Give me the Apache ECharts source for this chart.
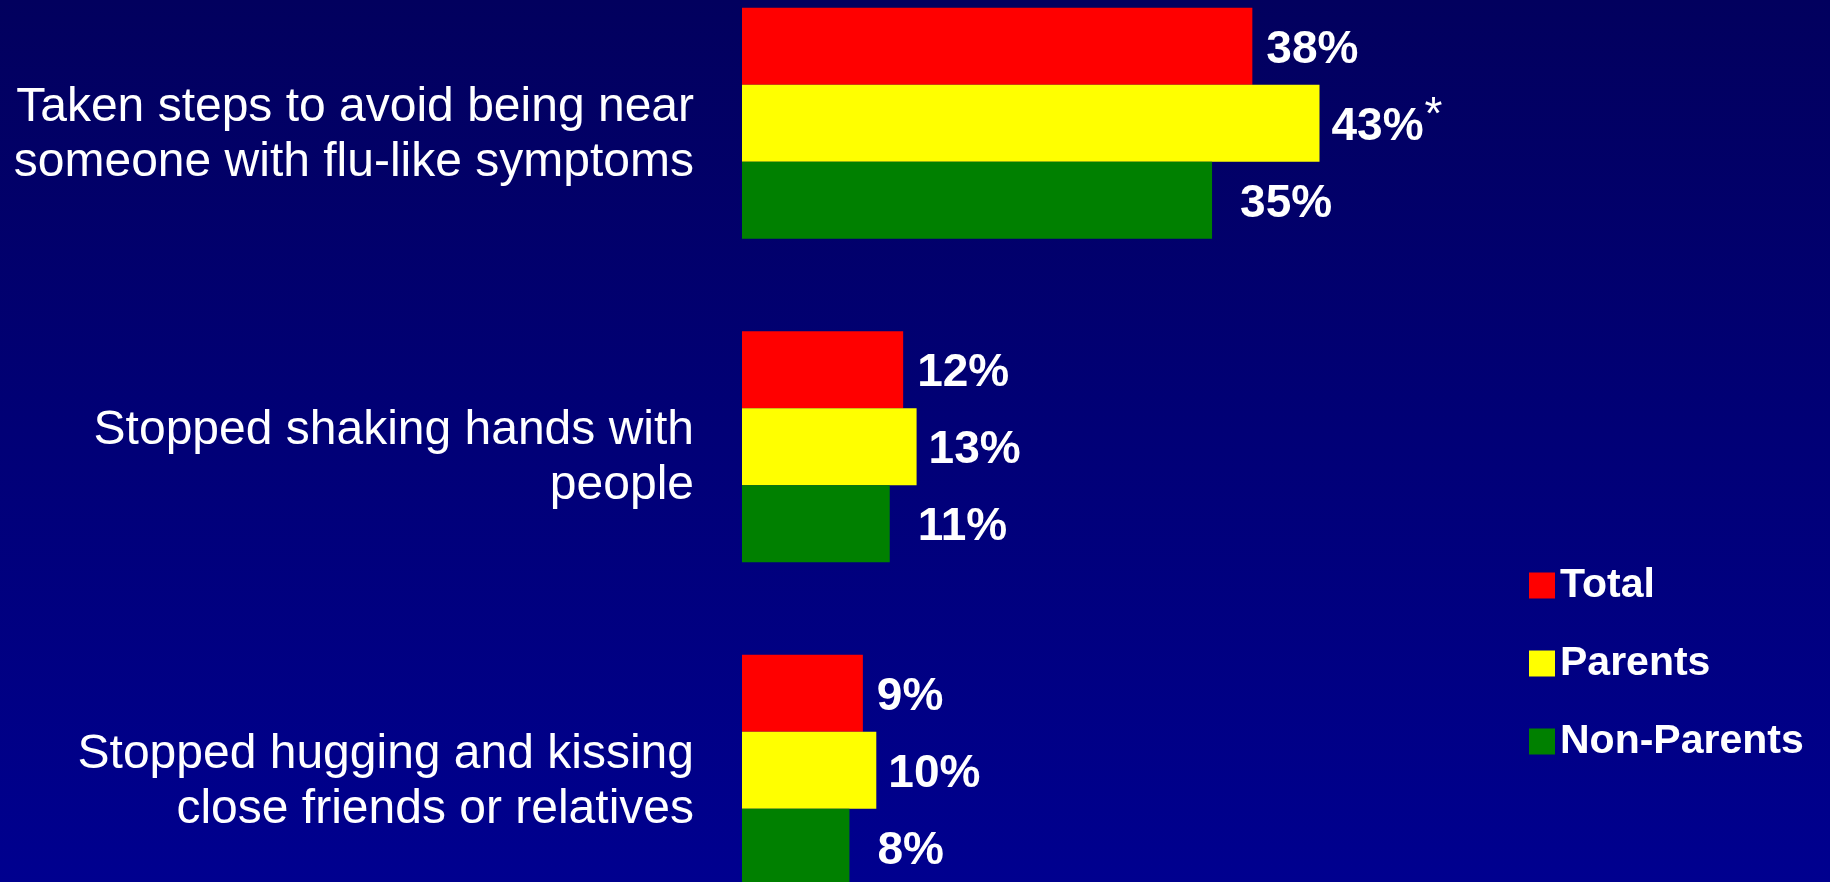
<!DOCTYPE html>
<html>
<head>
<meta charset="utf-8">
<script src="https://cdn.jsdelivr.net/npm/echarts@6/dist/echarts.min.js"></script>
<style>
html,body{margin:0;padding:0;overflow:hidden;background:#000070;}
#chart{width:1830px;height:882px;}
</style>
</head>
<body>
<div id="chart"></div>
<script>
const categories = [
  'Taken steps to avoid being near\nsomeone with flu-like symptoms',
  'Stopped shaking hands with\npeople',
  'Stopped hugging and kissing\nclose friends or relatives'
];
const seriesNames = ['Total', 'Parents', 'Non-Parents'];
const totalValues = [38, 12, 9];
const parentsValues = [43, 13, 10];
const nonParentsValues = [35, 11, 8];
const parentsNotes = ['*', '', ''];

const FONT = '"Liberation Sans", Arial, sans-serif';
const colors = ['#FF0000', '#FFFF00', '#008000'];

function makeSeries(name, data, color, dist, notes) {
  return {
    name: name,
    type: 'bar',
    data: data,
    barWidth: 77,
    barGap: '0%',
    itemStyle: { color: color },
    label: {
      show: true,
      position: 'right',
      distance: dist,
      color: '#FFFFFF',
      fontFamily: FONT,
      fontWeight: 'bold',
      fontSize: 46,
      formatter: function (p) {
        const note = notes ? notes[p.dataIndex] : '';
        return '{v|' + p.value + '%}' + (note ? '{s|' + note + '}' : '');
      },
      rich: {
        v: { color: '#FFFFFF', fontFamily: FONT, fontWeight: 'bold', fontSize: 46, lineHeight: 60, padding: [8, 0, 0, 0] },
        s: { color: '#FFFFFF', fontFamily: FONT, fontWeight: 'normal', fontSize: 46, verticalAlign: 'top', lineHeight: 40, padding: [0, 0, 0, 1] }
      }
    }
  };
}

const chart = echarts.init(document.getElementById('chart'), null, { renderer: 'canvas' });
chart.setOption({
  animation: false,
  backgroundColor: {
    type: 'linear', x: 0, y: 0, x2: 0, y2: 1,
    colorStops: [{ offset: 0, color: '#02005E' }, { offset: 1, color: '#00008F' }]
  },
  legend: {
    orient: 'vertical',
    left: 1524,
    top: 560,
    itemWidth: 26,
    itemHeight: 26,
    itemGap: 37,
    icon: 'rect',
    data: seriesNames,
    textStyle: { color: '#FFFFFF', fontFamily: FONT, fontWeight: 'bold', fontSize: 41, lineHeight: 26, padding: [2, 0, 0, 0] },
    itemStyle: { borderWidth: 0 }
  },
  grid: {
    left: 742,
    right: 13.6,
    top: -38.5,
    bottom: -50,
    containLabel: false,
    outerBoundsMode: 'none'
  },
  xAxis: {
    type: 'value',
    min: 0,
    max: 80,
    show: false
  },
  yAxis: {
    type: 'category',
    inverse: true,
    data: categories,
    axisLine: { show: false },
    axisTick: { show: false },
    splitLine: { show: false },
    axisLabel: {
      color: '#FFFFFF',
      fontFamily: FONT,
      fontSize: 48,
      lineHeight: 55,
      margin: 48,
      align: 'right',
      formatter: function (v) {
        return '{g| }\n' + v.split('\n').map(function (l) { return '{t|' + l + '}'; }).join('\n');
      },
      rich: {
        g: { fontSize: 10, lineHeight: 24 },
        t: { color: '#FFFFFF', fontFamily: FONT, fontSize: 48, lineHeight: 55 }
      }
    }
  },
  series: [
    makeSeries(seriesNames[0], totalValues, colors[0], 14, null),
    makeSeries(seriesNames[1], parentsValues, colors[1], 12, parentsNotes),
    makeSeries(seriesNames[2], nonParentsValues, colors[2], 28, null)
  ]
});
</script>
</body>
</html>
